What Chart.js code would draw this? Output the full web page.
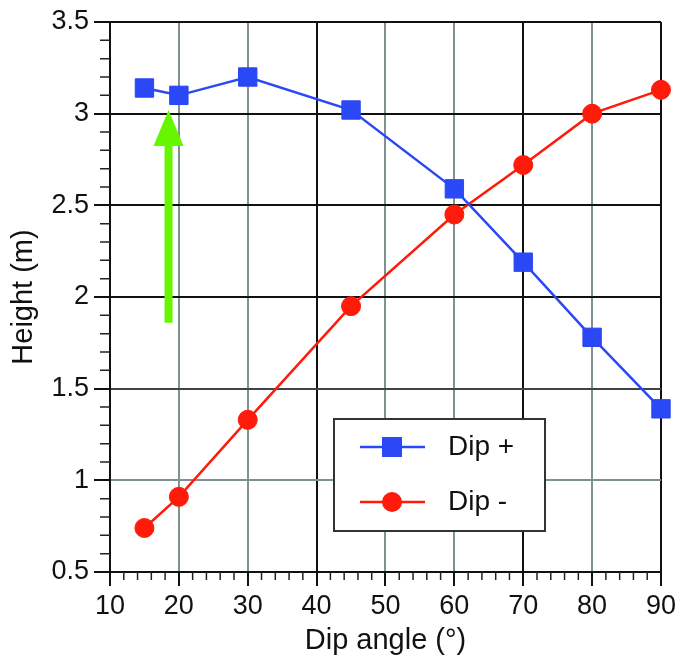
<!DOCTYPE html>
<html>
<head>
<meta charset="utf-8">
<script src="https://cdn.jsdelivr.net/npm/chart.js@4.4.0/dist/chart.umd.min.js"></script>
<style>
  html, body { margin: 0; padding: 0; background: #fff; }
  #wrap { width: 680px; height: 663px; }
</style>
</head>
<body>
<div id="wrap"><canvas id="chart"></canvas></div>
<script>
const dipAngles = [15, 20, 30, 45, 60, 70, 80, 90];
const dipPlus = [3.14, 3.10, 3.20, 3.02, 2.59, 2.19, 1.78, 1.39];
const dipMinus = [0.74, 0.91, 1.33, 1.95, 2.45, 2.72, 3.00, 3.13];

const xTicks = [10, 20, 30, 40, 50, 60, 70, 80, 90];
const yTicks = [0.5, 1, 1.5, 2, 2.5, 3, 3.5];
const xDarkLines = [10, 40, 70, 90];
const yDarkLines = [0.5, 2, 2.5, 3, 3.5];

// green arrow, in data units
const arrowX = 18.5;
const arrowFromY = 1.86, arrowToY = 3.02;

const FONT = "'Liberation Sans', Arial, Helvetica, sans-serif";
const BLUE = "#2a48f6", RED = "#ff1a0a", GREEN = "#66f700";
const GRAY = "#7f9191";

const minorTicks = {
  id: "minorTicks",
  afterDraw(chart) {
    const { ctx, scales: { x, y }, chartArea } = chart;
    ctx.save();
    ctx.strokeStyle = "#222";
    ctx.lineWidth = 1.5;
    ctx.beginPath();
    for (let v = 10; v <= 90; v += 2) {
      if (v % 10 === 0) continue;
      const px = x.getPixelForValue(v);
      ctx.moveTo(px, chartArea.bottom);
      ctx.lineTo(px, chartArea.bottom + 8);
    }
    for (let i = 5; i <= 35; i++) {
      if (i % 5 === 0) continue;
      const py = y.getPixelForValue(i / 10);
      ctx.moveTo(chartArea.left, py);
      ctx.lineTo(chartArea.left - 10, py);
    }
    ctx.stroke();
    ctx.restore();
  }
};

const arrow = {
  id: "arrow",
  beforeDatasetsDraw(chart) {
    const { ctx, scales: { x, y } } = chart;
    const px = x.getPixelForValue(arrowX);
    const y0 = y.getPixelForValue(arrowFromY);
    const y1 = y.getPixelForValue(arrowToY);
    const headLen = 36, headHalf = 15;
    ctx.save();
    ctx.strokeStyle = GREEN;
    ctx.fillStyle = GREEN;
    ctx.lineWidth = 8;
    ctx.beginPath();
    ctx.moveTo(px, y0);
    ctx.lineTo(px, y1 + headLen - 2);
    ctx.stroke();
    ctx.beginPath();
    ctx.moveTo(px, y1);
    ctx.lineTo(px - headHalf, y1 + headLen);
    ctx.lineTo(px + headHalf, y1 + headLen);
    ctx.closePath();
    ctx.fill();
    ctx.restore();
  }
};

const boxLegend = {
  id: "boxLegend",
  afterDraw(chart) {
    const ctx = chart.ctx;
    ctx.save();
    ctx.fillStyle = "#fff";
    ctx.fillRect(334, 419, 211, 112);
    ctx.strokeStyle = "#333";
    ctx.lineWidth = 2;
    ctx.strokeRect(334, 419, 211, 112);
    const rows = [
      { label: "Dip +", color: BLUE, shape: "rect", y: 447 },
      { label: "Dip -", color: RED, shape: "circle", y: 502 }
    ];
    rows.forEach(r => {
      ctx.strokeStyle = r.color;
      ctx.fillStyle = r.color;
      ctx.lineWidth = 2.5;
      ctx.beginPath();
      ctx.moveTo(360, r.y);
      ctx.lineTo(425, r.y);
      ctx.stroke();
      if (r.shape === "rect") {
        ctx.fillRect(392 - 10, r.y - 10, 20, 20);
      } else {
        ctx.beginPath();
        ctx.arc(392, r.y, 10, 0, Math.PI * 2);
        ctx.fill();
      }
      ctx.fillStyle = "#111";
      ctx.font = "28px " + FONT;
      ctx.textBaseline = "middle";
      ctx.fillText(r.label, 448, r.y);
    });
    ctx.restore();
  }
};

new Chart(document.getElementById("chart"), {
  type: "line",
  data: {
    datasets: [
      {
        label: "Dip +",
        data: dipAngles.map((a, i) => ({ x: a, y: dipPlus[i] })),
        borderColor: BLUE,
        backgroundColor: BLUE,
        borderWidth: 2.5,
        pointStyle: "rect",
        pointRadius: 13,
        pointBorderWidth: 1,
        clip: false
      },
      {
        label: "Dip -",
        data: dipAngles.map((a, i) => ({ x: a, y: dipMinus[i] })),
        borderColor: RED,
        backgroundColor: RED,
        borderWidth: 2.5,
        pointStyle: "circle",
        pointRadius: 9.5,
        pointBorderWidth: 1,
        clip: false
      }
    ]
  },
  options: {
    responsive: true,
    maintainAspectRatio: false,
    animation: false,
    layout: { padding: { top: 22, right: 19, left: 0, bottom: 0 } },
    plugins: {
      legend: { display: false },
      tooltip: { enabled: false }
    },
    scales: {
      x: {
        type: "linear",
        min: 10,
        max: 90,
        afterBuildTicks: s => { s.ticks = xTicks.map(v => ({ value: v })); },
        afterFit: s => { s.height = 91; },
        grid: {
          color: c => xDarkLines.includes(c.tick && c.tick.value) ? "#111" : GRAY,
          lineWidth: 2,
          tickLength: 14,
          tickColor: "#111"
        },
        border: { color: "#111", width: 2 },
        ticks: {
          padding: 4,
          color: "#111",
          font: { family: FONT, size: 27 },
          callback: v => String(v)
        },
        title: {
          display: true,
          text: "Dip angle (°)",
          color: "#111",
          font: { family: FONT, size: 29 },
          padding: { bottom: 5 }
        }
      },
      y: {
        min: 0.5,
        max: 3.5,
        afterBuildTicks: s => { s.ticks = yTicks.map(v => ({ value: v })); },
        afterFit: s => { s.width = 110; },
        grid: {
          color: c => {
            const v = c.tick && c.tick.value;
            if (yDarkLines.includes(v)) return "#111";
            if (v === 1.5) return "#3c4646";
            return GRAY;
          },
          lineWidth: 2,
          tickLength: 16,
          tickColor: "#111"
        },
        border: { color: "#111", width: 2 },
        ticks: {
          padding: 5,
          color: "#111",
          font: { family: FONT, size: 27 },
          callback: v => String(v)
        },
        title: {
          display: true,
          text: "Height (m)",
          color: "#111",
          font: { family: FONT, size: 29 },
          padding: { top: 7 }
        }
      }
    }
  },
  plugins: [arrow, minorTicks, boxLegend]
});
</script>
</body>
</html>
